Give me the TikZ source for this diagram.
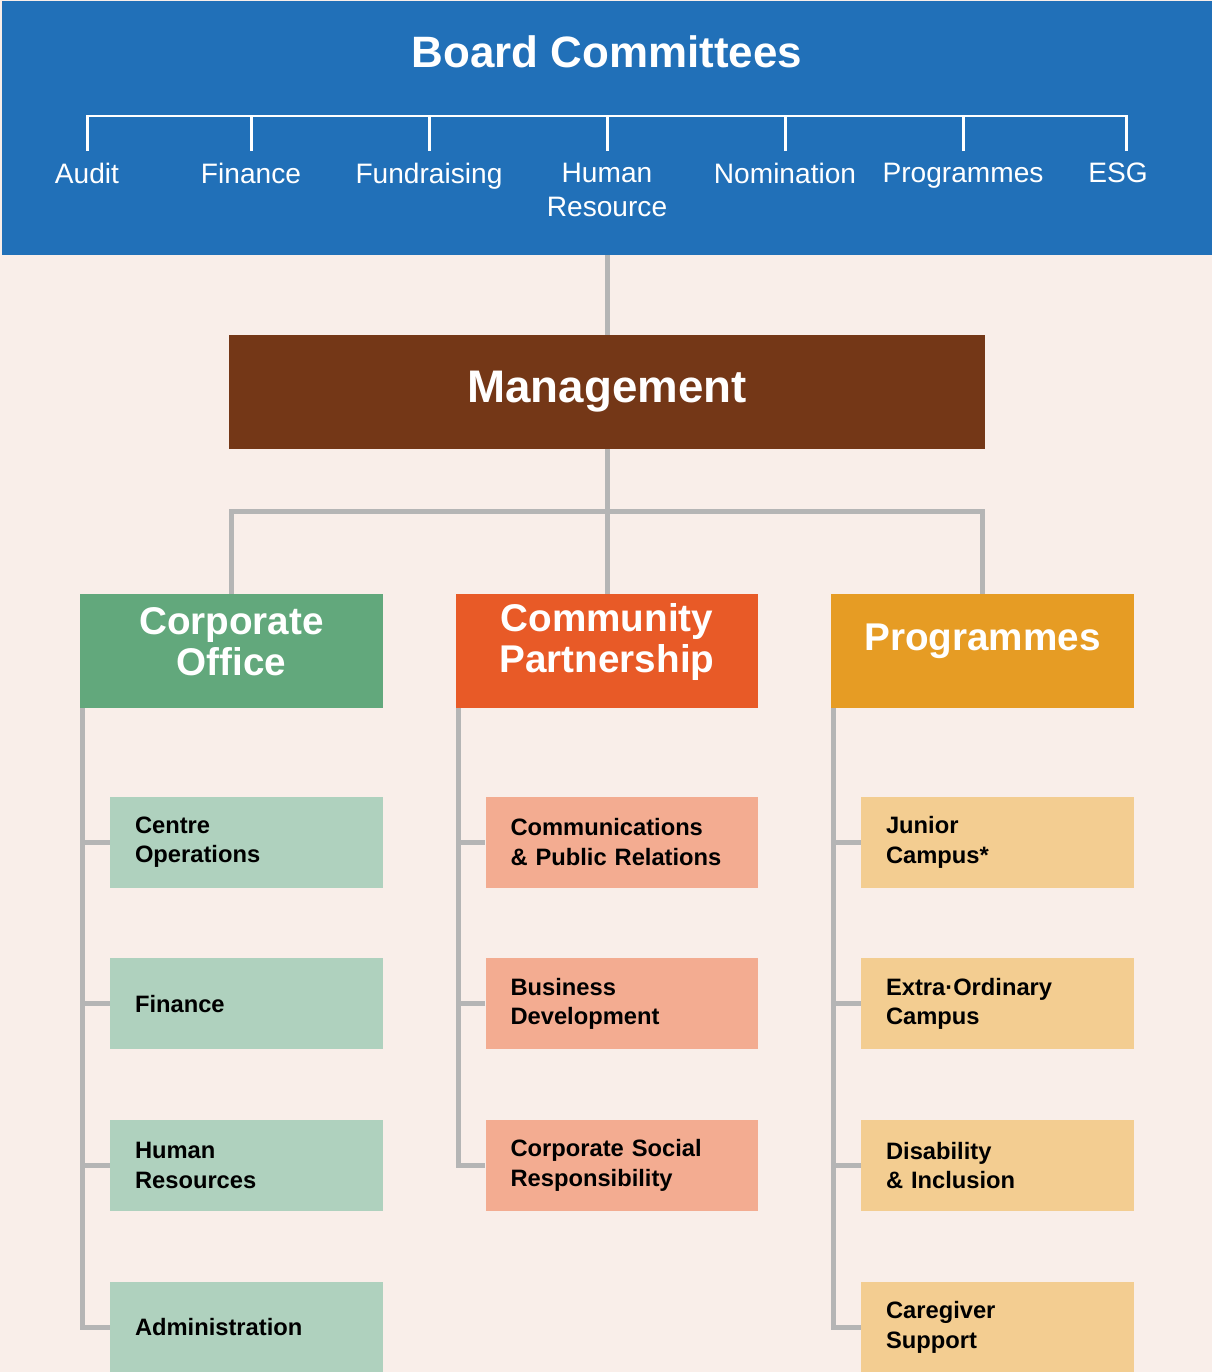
\documentclass[tikz,border=0pt]{standalone}
\usepackage{fontspec}
\setmainfont{Liberation Sans}
\usetikzlibrary{positioning}

\definecolor{pagebg}{HTML}{F9EEE9}
\definecolor{boardblue}{HTML}{2170B8}
\definecolor{mgmtbrown}{HTML}{743717}
\definecolor{linkgray}{HTML}{B5B5B5}
\definecolor{coGreen}{HTML}{62A87C}
\definecolor{cpOrange}{HTML}{E85A27}
\definecolor{prAmber}{HTML}{E69C24}
\definecolor{coLight}{HTML}{AFD1BE}
\definecolor{cpLight}{HTML}{F3AC91}
\definecolor{prLight}{HTML}{F3CD91}

\newcommand{\boardfont}{\fontsize{25}{30}\selectfont\bfseries}
\newcommand{\cmtefont}{\fontsize{16}{19.3}\selectfont}
\newcommand{\mgmtfont}{\fontsize{26}{30}\selectfont\bfseries}
\newcommand{\unitfont}{\fontsize{22}{23.3}\selectfont\bfseries}
\newcommand{\deptfont}{\fontsize{13.5}{17}\selectfont\bfseries}

\tikzset{
  banner/.style={rectangle, fill=boardblue, minimum width=24.2cm, minimum height=5.08cm, inner sep=0pt},
  cmte/.style={text=white, font=\cmtefont, align=center, anchor=north, inner sep=0pt},
  bracket/.style={draw=white, line width=0.06cm},
  mgmtbox/.style={rectangle, fill=mgmtbrown, text=white, minimum width=15.14cm, minimum height=2.28cm, font=\mgmtfont},
  unitbox/.style={rectangle, minimum width=6.06cm, minimum height=2.28cm, inner sep=0pt},
  unittxt/.style={text=white, align=center, font=\unitfont, inner sep=0pt},
  deptbox/.style={rectangle, minimum width=5.46cm, minimum height=1.82cm, text width=4.46cm,
    inner xsep=0.5cm, inner ysep=0pt, align=left, font=\deptfont},
  conn/.style={draw=linkgray, line width=0.1cm}
}

\begin{document}
\begin{tikzpicture}[x=0.02cm, y=-0.02cm, node distance=1.4cm]
  % page
  \useasboundingbox (0,0) rectangle (1212,1372);
  \fill[pagebg] (0,0) rectangle (1212,1372);

  % Board committees banner
  \node[banner] (board) at (607,128) {};
  \node[text=white, font=\boardfont, anchor=base, inner sep=0pt] (title) at (607,68) {Board Committees};

  \node[cmte] (audit) at (87,163) {Audit};
  \node[cmte] (fin) at (251,163) {Finance};
  \node[cmte] (fund) at (429,163) {Fundraising};
  \node[cmte] (hr) at (607,163) {Human\\Resource};
  \node[cmte] (nom) at (785,163) {Nomination};
  \node[cmte] (prog) at (963,163) {Programmes};
  \node[cmte] (esg) at (1118,163) {ESG};

  \coordinate (barL) at (88,116);
  \coordinate (barR) at (1126,116);
  \draw[bracket] ([yshift=0.24cm]audit.north) -- (audit.north |- barL) -- (barR)
    -- ([yshift=0.24cm]esg.north -| barR);
  \foreach \n in {fin,fund,hr,nom,prog}
    \draw[bracket] ([yshift=0.24cm]\n.north) -- (\n.north |- barL);

  % Management
  \node[mgmtbox] (mgmt) at (607,392) {Management};
  \draw[conn] (board.south -| mgmt.north) -- (mgmt.north);

  % Units
  \node[unitbox, fill=coGreen] (coHead) at (231.5,651) {};
  \node[unitbox, fill=cpOrange] (cpHead) at (607,651) {};
  \node[unitbox, fill=prAmber] (prHead) at (982.5,651) {};
  \node[unittxt] (coTitle) at ([yshift=0.18cm]coHead.center) {Corporate\\Office};
  \node[unittxt] (cpTitle) at ([yshift=0.18cm]cpHead.center) {Community\\Partnership};
  \node[unittxt] (prTitle) at ([yshift=0.2cm]prHead.center) {Programmes};

  \coordinate[below=1.24cm of mgmt.south] (split);
  \draw[conn] (mgmt.south) -- (split);
  \draw[conn] (coHead.north) |- (split) -| (prHead.north);
  \draw[conn] (split) -- (cpHead.north);

  % Corporate Office departments
  \node[deptbox, fill=coLight, below=1.76cm of coHead.south east, anchor=north east] (co1) {Centre\\Operations};
  \node[deptbox, fill=coLight, below=of co1] (co2) {Finance};
  \node[deptbox, fill=coLight, below=of co2] (co3) {Human\\Resources};
  \node[deptbox, fill=coLight, below=of co3] (co4) {Administration};

  % Community Partnership departments
  \node[deptbox, fill=cpLight, below=1.76cm of cpHead.south east, anchor=north east] (cp1) {Communications\\\& Public Relations};
  \node[deptbox, fill=cpLight, below=of cp1] (cp2) {Business\\Development};
  \node[deptbox, fill=cpLight, below=of cp2] (cp3) {Corporate Social\\Responsibility};

  % Programmes departments
  \node[deptbox, fill=prLight, below=1.76cm of prHead.south east, anchor=north east] (pr1) {Junior\\Campus*};
  \node[deptbox, fill=prLight, below=of pr1] (pr2) {Extra·Ordinary\\Campus};
  \node[deptbox, fill=prLight, below=of pr2] (pr3) {Disability\\\& Inclusion};
  \node[deptbox, fill=prLight, below=of pr3] (pr4) {Caregiver\\Support};

  % Spines
  \foreach \s in {co1,co2,co3,co4}
    \draw[conn] ([xshift=0.06cm]coHead.south west) |- (\s.west);
  \foreach \s in {cp1,cp2,cp3}
    \draw[conn] ([xshift=0.06cm]cpHead.south west) |- (\s.west);
  \foreach \s in {pr1,pr2,pr3,pr4}
    \draw[conn] ([xshift=0.06cm]prHead.south west) |- (\s.west);
\end{tikzpicture}
\end{document}
